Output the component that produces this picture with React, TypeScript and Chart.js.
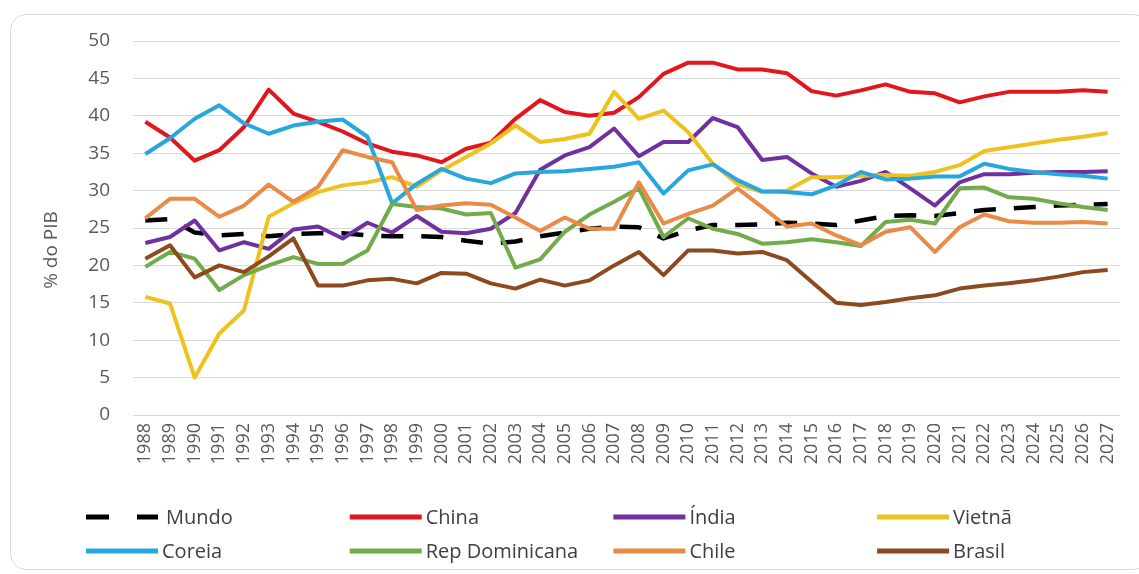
import { useEffect, useRef } from "react";
import { Chart, registerables } from "chart.js";

Chart.register(...registerables);

// Investimento (formação bruta de capital) em % do PIB, 1988–2027
const years = [
  "1988", "1989", "1990", "1991", "1992", "1993", "1994", "1995", "1996", "1997",
  "1998", "1999", "2000", "2001", "2002", "2003", "2004", "2005", "2006", "2007",
  "2008", "2009", "2010", "2011", "2012", "2013", "2014", "2015", "2016", "2017",
  "2018", "2019", "2020", "2021", "2022", "2023", "2024", "2025", "2026", "2027",
];

const mundo = [
  26.0, 26.2, 24.4, 24.0, 24.2, 23.9, 24.2, 24.3, 24.3, 24.0,
  23.9, 23.9, 23.8, 23.3, 22.9, 23.2, 23.9, 24.4, 24.9, 25.2,
  25.1, 23.6, 24.7, 25.4, 25.4, 25.5, 25.7, 25.6, 25.4, 26.0,
  26.6, 26.7, 26.6, 27.0, 27.4, 27.6, 27.8, 28.0, 28.1, 28.2,
];
const china = [
  39.2, 37.1, 34.0, 35.4, 38.5, 43.5, 40.3, 39.2, 37.9, 36.3,
  35.2, 34.7, 33.8, 35.6, 36.4, 39.6, 42.1, 40.5, 40.0, 40.4,
  42.5, 45.6, 47.1, 47.1, 46.2, 46.2, 45.7, 43.3, 42.7, 43.4,
  44.2, 43.2, 43.0, 41.8, 42.6, 43.2, 43.2, 43.2, 43.4, 43.2,
];
const india = [
  23.0, 23.8, 26.0, 22.0, 23.1, 22.2, 24.8, 25.2, 23.6, 25.7,
  24.4, 26.6, 24.5, 24.3, 24.9, 27.0, 32.8, 34.7, 35.8, 38.3,
  34.6, 36.5, 36.5, 39.7, 38.5, 34.1, 34.5, 32.3, 30.5, 31.3,
  32.5, 30.3, 28.0, 31.1, 32.2, 32.2, 32.4, 32.5, 32.5, 32.6,
];
const vietna = [
  15.8, 14.9, 5.0, 10.9, 14.0, 26.5, 28.3, 29.8, 30.7, 31.1,
  31.8, 30.5, 32.7, 34.5, 36.3, 38.7, 36.5, 36.9, 37.6, 43.2,
  39.6, 40.7, 37.8, 33.6, 30.9, 29.8, 30.0, 31.8, 31.8, 32.0,
  32.1, 32.0, 32.5, 33.4, 35.3, 35.8, 36.3, 36.8, 37.2, 37.7,
];
const coreia = [
  34.9, 37.0, 39.6, 41.4, 39.0, 37.6, 38.7, 39.2, 39.5, 37.2,
  28.3, 30.9, 32.9, 31.6, 31.0, 32.3, 32.5, 32.6, 32.9, 33.2,
  33.8, 29.6, 32.7, 33.5, 31.4, 29.9, 29.8, 29.5, 30.7, 32.5,
  31.5, 31.6, 31.9, 31.9, 33.6, 32.9, 32.5, 32.2, 32.0, 31.6,
];
const repDominicana = [
  19.8, 21.8, 20.9, 16.7, 18.7, 20.0, 21.1, 20.2, 20.2, 22.0,
  28.2, 27.8, 27.6, 26.8, 27.0, 19.7, 20.8, 24.5, 26.8, 28.5,
  30.3, 23.8, 26.3, 24.9, 24.2, 22.9, 23.1, 23.5, 23.1, 22.6,
  25.8, 26.1, 25.6, 30.3, 30.4, 29.1, 28.9, 28.3, 27.8, 27.4,
];
const chile = [
  26.3, 28.9, 28.9, 26.5, 28.0, 30.8, 28.5, 30.5, 35.4, 34.5,
  33.8, 27.4, 28.0, 28.3, 28.1, 26.4, 24.6, 26.4, 24.9, 24.9,
  31.1, 25.6, 26.9, 28.0, 30.3, 27.8, 25.2, 25.6, 24.0, 22.7,
  24.5, 25.1, 21.8, 25.1, 26.8, 25.9, 25.7, 25.7, 25.8, 25.6,
];
const brasil = [
  20.9, 22.7, 18.4, 20.0, 19.1, 21.2, 23.6, 17.3, 17.3, 18.0,
  18.2, 17.6, 19.0, 18.9, 17.6, 16.9, 18.1, 17.3, 18.0, 20.0,
  21.8, 18.7, 22.0, 22.0, 21.6, 21.8, 20.7, 17.8, 15.0, 14.7,
  15.1, 15.6, 16.0, 16.9, 17.3, 17.6, 18.0, 18.5, 19.1, 19.4,
];

const Y_TITLE = "% do PIB";
const FONT = "'Open Sans', 'DejaVu Sans', sans-serif";
const TEXT_GRAY = "#595959";
const MUNDO_DASH = [22, 18];

const W = 1139;
const H = 574;

const series = [
  { label: "Mundo", data: mundo, color: "#000000", dash: MUNDO_DASH },
  { label: "China", data: china, color: "#E2171D" },
  { label: "Índia", data: india, color: "#7030A0" },
  { label: "Vietnã", data: vietna, color: "#EFC11F" },
  { label: "Coreia", data: coreia, color: "#27A7DD" },
  { label: "Rep Dominicana", data: repDominicana, color: "#71AB4B" },
  { label: "Chile", data: chile, color: "#EA8A47" },
  { label: "Brasil", data: brasil, color: "#8C4A1E" },
];

// Rotated y-axis title, drawn a little below the plot's vertical centre
const yTitlePlugin = {
  id: "yTitle",
  afterDraw(chart: any) {
    const { ctx, chartArea } = chart;
    ctx.save();
    ctx.translate(chartArea.left - 81, (chartArea.top + chartArea.bottom) / 2 + 22);
    ctx.rotate(-Math.PI / 2);
    ctx.font = `19px ${FONT}`;
    ctx.fillStyle = TEXT_GRAY;
    ctx.textAlign = "center";
    ctx.textBaseline = "middle";
    ctx.fillText(Y_TITLE, 0, 0);
    ctx.restore();
  },
};

// Legend laid out as a 4-column grid under the x-axis labels
const gridLegendPlugin = {
  id: "gridLegend",
  afterDraw(chart: any) {
    const { ctx } = chart;
    const datasets = chart.data.datasets;
    const colStart = 86;
    const colStep = 263.7;
    const lineLen = 72;
    const rowY = [chart.height - 57, chart.height - 23];
    ctx.save();
    datasets.forEach((ds: any, i: number) => {
      const col = i % 4;
      const row = Math.floor(i / 4);
      const x0 = colStart + col * colStep;
      const y = rowY[row];
      ctx.beginPath();
      ctx.strokeStyle = ds.borderColor;
      ctx.lineWidth = 5;
      ctx.lineCap = "butt";
      ctx.setLineDash(ds.borderDash && ds.borderDash.length ? [23, 28] : []);
      ctx.moveTo(x0, y);
      ctx.lineTo(x0 + lineLen, y);
      ctx.stroke();
      ctx.setLineDash([]);
      ctx.font = `20px ${FONT}`;
      ctx.fillStyle = "#404040";
      ctx.textAlign = "left";
      ctx.textBaseline = "middle";
      ctx.fillText(ds.label, x0 + lineLen + (i === 0 ? 8 : 4), y + 1);
    });
    ctx.restore();
  },
};

export default function App() {
  const canvasRef = useRef<HTMLCanvasElement | null>(null);

  useEffect(() => {
    const canvas = canvasRef.current;
    if (!canvas) return;
    const chart = new Chart(canvas, {
      type: "line",
      data: {
        labels: years,
        datasets: series.map((s, i) => ({
          label: s.label,
          data: s.data,
          borderColor: s.color,
          backgroundColor: s.color,
          borderWidth: s.dash ? 4.5 : 4,
          borderDash: s.dash || [],
          borderCapStyle: "butt" as const,
          borderJoinStyle: "round" as const,
          pointRadius: 0,
          pointHoverRadius: 0,
          tension: 0,
          fill: false,
          order: series.length - i,
        })),
      },
      plugins: [yTitlePlugin, gridLegendPlugin],
      options: {
        responsive: false,
        animation: false,
        devicePixelRatio: 1,
        layout: { padding: { top: 41, right: 19, bottom: 99, left: 0 } },
        plugins: {
          legend: { display: false },
          tooltip: { enabled: false },
          title: { display: false },
        },
        scales: {
          x: {
            offset: true,
            grid: { display: false, drawTicks: false },
            border: { display: false },
            ticks: {
              autoSkip: false,
              minRotation: 90,
              maxRotation: 90,
              padding: 8,
              color: TEXT_GRAY,
              font: { family: FONT, size: 18 },
            },
            afterFit(axis: any) {
              axis.height = 60;
            },
          },
          y: {
            min: 0,
            max: 50,
            grid: { color: "#D9D9D9", lineWidth: 1, drawTicks: false },
            border: { display: false },
            ticks: {
              stepSize: 5,
              padding: 23,
              color: TEXT_GRAY,
              font: { family: FONT, size: 19 },
            },
            afterFit(axis: any) {
              axis.width = 133;
            },
          },
        },
      },
    });
    return () => chart.destroy();
  }, []);

  return (
    <div
      style={{
        position: "absolute",
        left: 0,
        top: 0,
        width: W,
        height: H,
        overflow: "hidden",
        background: "#ffffff",
      }}
    >
      <div
        style={{
          position: "absolute",
          left: 10,
          top: 14,
          width: W,
          height: 556,
          border: "1.5px solid #D9D9D9",
          borderRadius: 16,
          boxSizing: "border-box",
        }}
      />
      <canvas
        ref={canvasRef}
        width={W}
        height={H}
        style={{ position: "absolute", left: 0, top: 0, width: W, height: H }}
      />
    </div>
  );
}
